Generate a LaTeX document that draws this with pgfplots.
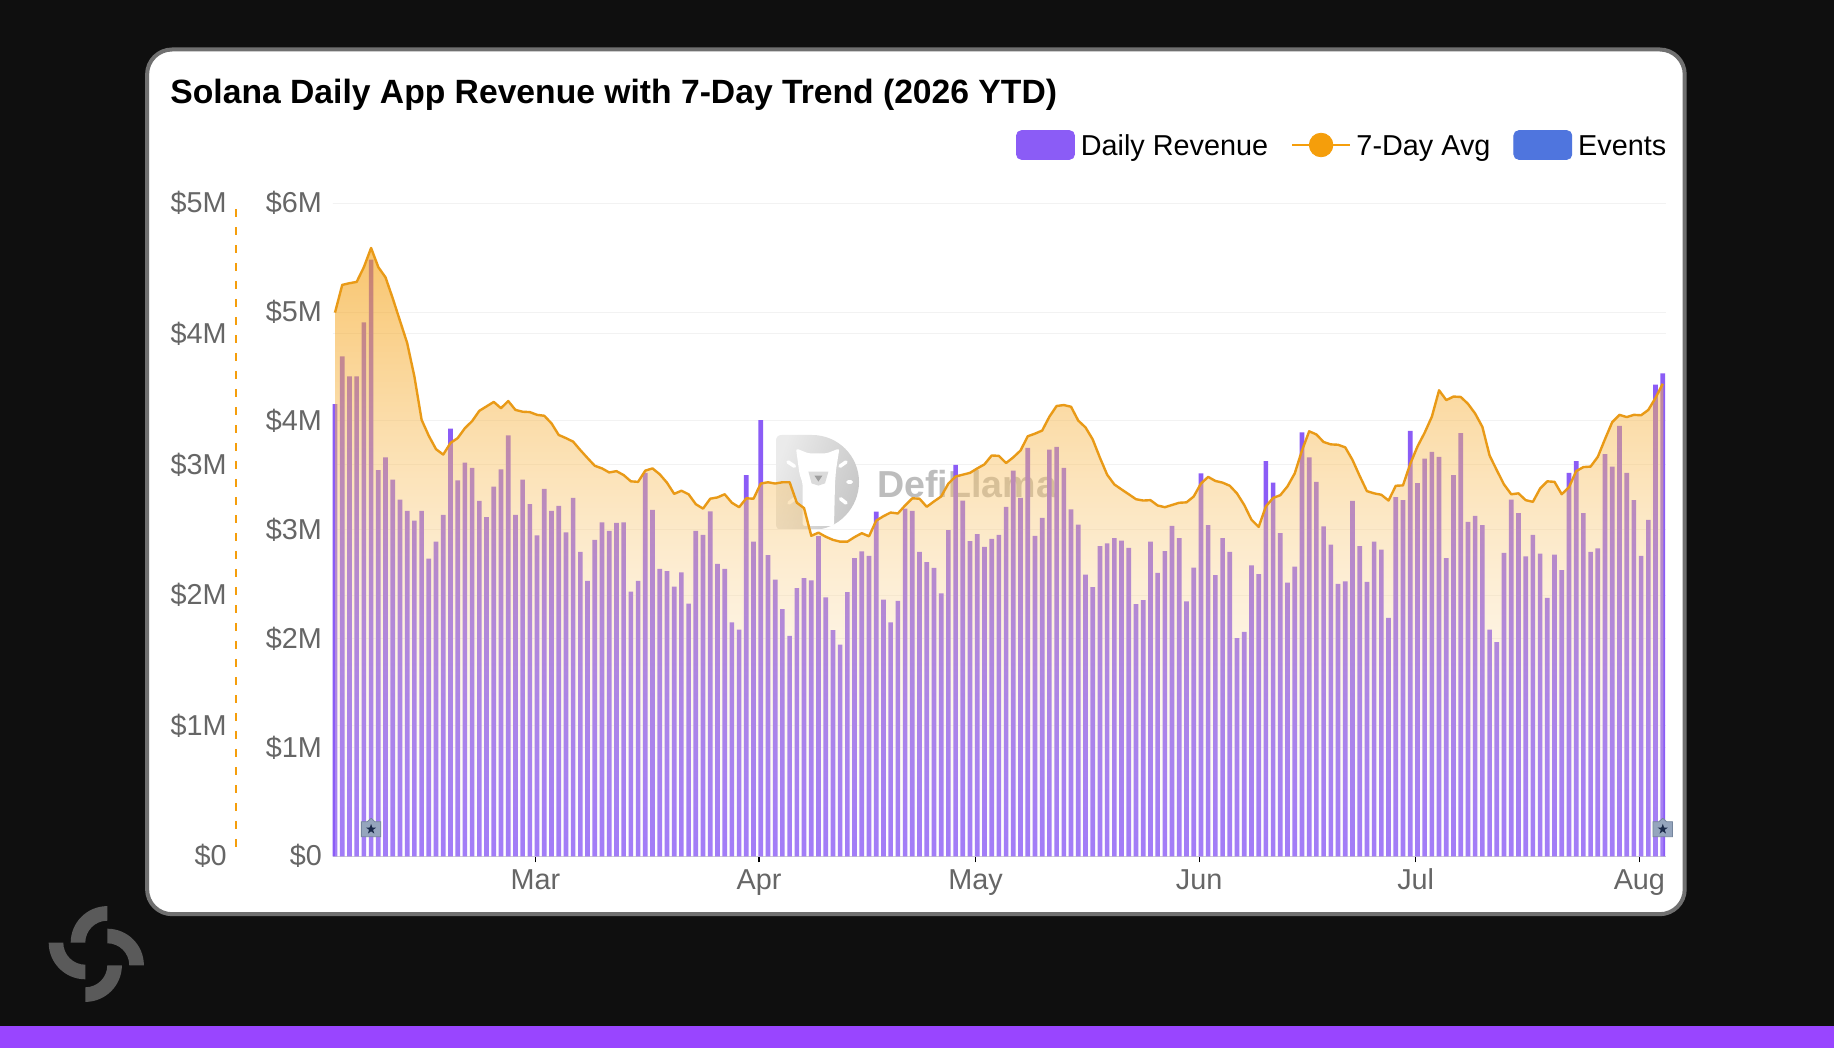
\documentclass[border=0pt]{standalone}
\usepackage{fontspec}
\setmainfont{Liberation Sans}
\usepackage{pgfplots}
\usepackage{pgfplotstable}
\pgfplotsset{compat=1.18}
\usetikzlibrary{fadings,calc}

\definecolor{bgdark}{HTML}{0F0F0F}
\definecolor{stripe}{HTML}{9945FF}
\definecolor{cardedge}{HTML}{707070}
\definecolor{logogray}{HTML}{5A5A5A}
\definecolor{barpurple}{HTML}{8B5CF6}
\definecolor{eventblue}{HTML}{4F75DE}
\definecolor{avgorange}{HTML}{F59E0B}
\definecolor{avgline}{HTML}{E99A17}
\definecolor{ticktext}{HTML}{666666}
\definecolor{gridline}{HTML}{F2F2F2}
\definecolor{eventfill}{HTML}{95A5BD}
\definecolor{eventedge}{HTML}{75859D}
\definecolor{eventstar}{HTML}{1B2A4A}

\tikzfading[name=areafade, top color=transparent!40, bottom color=transparent!80]

\pgfdeclareplotmark{eventpin}{%
  \pgfsetlinewidth{0.4pt}%
  \pgfsetfillcolor{eventfill}\pgfsetstrokecolor{eventedge}%
  \pgfpathmoveto{\pgfqpoint{-4.85pt}{-3.75pt}}%
  \pgfpathlineto{\pgfqpoint{4.85pt}{-3.75pt}}%
  \pgfpathlineto{\pgfqpoint{4.85pt}{3.75pt}}%
  \pgfpathlineto{\pgfqpoint{1.9pt}{3.75pt}}%
  \pgfpathlineto{\pgfqpoint{0pt}{5.45pt}}%
  \pgfpathlineto{\pgfqpoint{-1.9pt}{3.75pt}}%
  \pgfpathlineto{\pgfqpoint{-4.85pt}{3.75pt}}%
  \pgfpathclose
  \pgfusepathqfillstroke
  \pgfsetfillcolor{eventstar}%
  \pgfpathmoveto{\pgfqpoint{0pt}{2.7pt}}%
  \pgfpathlineto{\pgfqpoint{-0.617pt}{0.85pt}}%
  \pgfpathlineto{\pgfqpoint{-2.568pt}{0.834pt}}%
  \pgfpathlineto{\pgfqpoint{-0.999pt}{-0.324pt}}%
  \pgfpathlineto{\pgfqpoint{-1.587pt}{-2.184pt}}%
  \pgfpathlineto{\pgfqpoint{0pt}{-1.05pt}}%
  \pgfpathlineto{\pgfqpoint{1.587pt}{-2.184pt}}%
  \pgfpathlineto{\pgfqpoint{0.999pt}{-0.324pt}}%
  \pgfpathlineto{\pgfqpoint{2.568pt}{0.834pt}}%
  \pgfpathlineto{\pgfqpoint{0.617pt}{0.85pt}}%
  \pgfpathclose
  \pgfusepathqfill
}

% one row per day from 1 Feb, revenue on the $6M scale, average on the $5M scale
\pgfplotstableread{
day rev avg
0 4.155 4.163
1 4.593 4.375
2 4.409 4.388
3 4.409 4.398
4 4.905 4.511
5 5.483 4.658
6 3.548 4.511
7 3.666 4.433
8 3.461 4.272
9 3.277 4.101
10 3.174 3.930
11 3.084 3.674
12 3.174 3.342
13 2.735 3.219
14 2.891 3.117
15 3.137 3.076
16 3.929 3.165
17 3.453 3.202
18 3.617 3.278
19 3.568 3.332
20 3.265 3.411
21 3.117 3.445
22 3.396 3.479
23 3.556 3.431
24 3.867 3.486
25 3.137 3.418
26 3.461 3.404
27 3.236 3.401
28 2.949 3.380
29 3.375 3.373
30 3.174 3.315
31 3.219 3.226
32 2.977 3.202
33 3.293 3.175
34 2.797 3.110
35 2.530 3.049
36 2.908 2.990
37 3.068 2.970
38 2.990 2.939
39 3.064 2.949
40 3.068 2.919
41 2.432 2.871
42 2.530 2.867
43 3.523 2.953
44 3.183 2.970
45 2.641 2.925
46 2.621 2.861
47 2.477 2.775
48 2.608 2.799
49 2.321 2.772
50 2.990 2.696
51 2.953 2.662
52 3.170 2.738
53 2.686 2.748
54 2.641 2.772
55 2.149 2.707
56 2.083 2.673
57 3.502 2.741
58 2.891 2.738
59 4.007 2.854
60 2.768 2.864
61 2.543 2.854
62 2.272 2.864
63 2.026 2.864
64 2.465 2.707
65 2.555 2.666
66 2.535 2.454
67 2.941 2.478
68 2.379 2.447
69 2.079 2.423
70 1.944 2.409
71 2.428 2.409
72 2.740 2.444
73 2.801 2.474
74 2.760 2.450
75 3.166 2.570
76 2.358 2.604
77 2.149 2.632
78 2.346 2.625
79 3.195 2.686
80 3.174 2.741
81 2.797 2.738
82 2.703 2.676
83 2.649 2.717
84 2.416 2.755
85 2.998 2.854
86 3.597 2.908
87 3.269 2.922
88 2.895 2.936
89 2.961 2.970
90 2.842 3.001
91 2.916 3.069
92 2.953 3.066
93 3.211 3.011
94 3.543 3.055
95 3.293 3.107
96 3.753 3.216
97 2.945 3.236
98 3.109 3.260
99 3.736 3.366
100 3.761 3.448
101 3.568 3.455
102 3.187 3.442
103 3.047 3.336
104 2.588 3.284
105 2.473 3.192
106 2.850 3.052
107 2.875 2.922
108 2.924 2.847
109 2.900 2.809
110 2.834 2.772
111 2.317 2.734
112 2.354 2.724
113 2.891 2.727
114 2.604 2.686
115 2.805 2.673
116 3.035 2.690
117 2.924 2.707
118 2.342 2.710
119 2.653 2.755
120 3.519 2.854
121 3.043 2.905
122 2.584 2.874
123 2.924 2.861
124 2.797 2.837
125 2.005 2.778
126 2.063 2.690
127 2.674 2.577
128 2.592 2.522
129 3.630 2.679
130 3.433 2.744
131 2.969 2.765
132 2.514 2.833
133 2.662 2.932
134 3.896 3.107
135 3.666 3.254
136 3.441 3.230
137 3.031 3.172
138 2.863 3.154
139 2.502 3.151
140 2.526 3.131
141 3.265 3.035
142 2.850 2.912
143 2.522 2.796
144 2.891 2.779
145 2.818 2.768
146 2.190 2.724
147 3.301 2.837
148 3.273 2.840
149 3.908 3.004
150 3.429 3.137
151 3.654 3.243
152 3.716 3.366
153 3.671 3.568
154 2.740 3.493
155 3.502 3.520
156 3.888 3.517
157 3.072 3.465
158 3.129 3.390
159 3.043 3.288
160 2.083 3.069
161 1.969 2.956
162 2.789 2.847
163 3.277 2.772
164 3.154 2.779
165 2.756 2.727
166 2.953 2.714
167 2.781 2.816
168 2.375 2.871
169 2.772 2.867
170 2.629 2.772
171 3.523 2.826
172 3.630 2.949
173 3.154 2.980
174 2.797 2.984
175 2.830 3.059
176 3.695 3.195
177 3.580 3.325
178 3.954 3.380
179 3.523 3.363
180 3.273 3.380
181 2.760 3.377
182 3.092 3.418
183 4.335 3.510
184 4.438 3.619
}\dailytable

\pgfplotsset{
  panel/.style={
    at={(166.35pt,95.85pt)}, anchor=south west,
    scale only axis, width=666.65pt, height=326.5pt,
    xmin=-0.32, xmax=184.45, ymin=0,
    clip=false,
    tick label style={font=\fontsize{14.4}{16}\selectfont, text=ticktext},
  },
}

\begin{document}
\begin{tikzpicture}
\useasboundingbox (0,0) rectangle (917pt,524pt);
\fill[bgdark] (0,0) rectangle (917pt,524pt);
\fill[stripe] (0,0) rectangle (917pt,11pt);
\draw[cardedge, fill=white, line width=2pt, rounded corners=12.5pt]
  (73.55pt,66.9pt) rectangle (842.35pt,499.25pt);

% corner logo, four ring quarters
\foreach \cx/\cy/\start in {53.65/52.65/90, 53.65/41.35/0, 42.65/41.35/270, 42.65/52.65/180}{
  \fill[logogray] ($(\cx pt,\cy pt)+(\start:18.3pt)$) arc[start angle=\start, delta angle=90, radius=18.3pt]
    -- ($(\cx pt,\cy pt)+(\start+90:11pt)$) arc[start angle=\start+90, delta angle=-90, radius=11pt] -- cycle;
}

% left scale: its grid and labels sit under the bars
\begin{axis}[panel, ymax=5,
  axis line style={draw=none},
  xtick=\empty,
  ytick={0,1,2,3,4,5},
  yticklabels={\$0,\$1M,\$2M,\$3M,\$4M,\$5M},
  ytick style={draw=none},
  yticklabel style={anchor=east, inner sep=0pt, xshift=-52.8pt},
  ymajorgrids, grid style={gridline, line width=0.5pt},
  title={\fontsize{16.83}{20}\selectfont\bfseries Solana Daily App Revenue with 7-Day Trend (2026 YTD)},
  title style={at={(-0.122,1.1535)}, anchor=base west, inner sep=0pt, yshift=-6pt},
]
\draw[avgorange, line width=1pt, dash pattern=on 4pt off 5pt]
  (axis description cs:-0.0726,0.0143) -- (axis description cs:-0.0726,0.9963);
\end{axis}

% DefiLlama watermark
\shade[left color=black!8, right color=black!22, shading angle=70]
  (391pt,259pt) .. controls (389pt,259pt) and (388pt,260pt) .. (388pt,262pt)
  -- (388pt,303.5pt) .. controls (388pt,305.5pt) and (389pt,306.5pt) .. (391pt,306.5pt)
  -- (406pt,306.5pt) .. controls (419pt,306.5pt) and (429.5pt,296pt) .. (429.5pt,283pt)
  .. controls (429.5pt,270pt) and (419pt,259pt) .. (406pt,259pt) -- cycle;
\fill[white, rounded corners=1.2pt] (398pt,299.8pt) -- (404.2pt,297.3pt) -- (413.3pt,297.3pt)
  -- (419.7pt,299.8pt) -- (418pt,289pt) -- (417.5pt,282.3pt) -- (417pt,261pt) -- (401.3pt,261pt)
  -- (401.3pt,282.3pt) -- (399.7pt,287.3pt) -- cycle;
\fill[black!14] (404.2pt,288.2pt) -- (414.2pt,288.2pt) -- (412.5pt,282.3pt) -- (409.2pt,281.2pt)
  -- (405.8pt,282.3pt) -- cycle;
\fill[black!38] (407.2pt,286.2pt) -- (411.2pt,286.2pt) -- (409.2pt,283.2pt) -- cycle;
\draw[white, line width=1.8pt, line cap=round]
  (394pt,293pt) -- (397.2pt,290.9pt)
  (420pt,290.9pt) -- (423pt,293pt)
  (424pt,283pt) -- (425.7pt,283pt)
  (420.3pt,274.6pt) -- (423pt,272.5pt)
  (394.5pt,272.5pt) -- (397.2pt,274.6pt);
\node[anchor=west, inner sep=0pt, text=black!26] at (438.5pt,282pt)
  {\fontsize{18.8}{20}\selectfont\bfseries DefiLlama};

% right scale: bars, grid, month ticks
\begin{axis}[panel, ymax=6,
  axis x line*=bottom, axis y line*=left,
  y axis line style={draw=none},
  x axis line style={draw=gray!40, -},
  ytick={0,1,2,3,4,5,6},
  yticklabels={\$0,\$1M,\$2M,\$3M,\$4M,\$5M,\$6M},
  ytick style={draw=none},
  yticklabel style={anchor=east, inner sep=0pt, xshift=-2.2pt},
  xtick={27.76,58.76,88.76,119.76,149.76,180.76},
  xticklabels={Mar,Apr,May,Jun,Jul,Aug},
  xtick style={black, line width=0.6pt},
  tick align=outside, major tick length=3pt,
  xticklabel style={text height=10.4pt, yshift=0.2pt},
  ymajorgrids, grid style={gridline, line width=0.5pt},
]
\addplot[ybar, bar width=2.335pt, fill=barpurple, draw=none, bar shift=0pt]
  table[x=day, y=rev] {\dailytable};
\end{axis}

% left scale again: the average and its area over the bars, the event pins, the legend
\begin{axis}[panel, ymax=5,
  axis line style={draw=none},
  xtick=\empty, ytick=\empty,
  legend columns=3,
  legend style={at={(1.0035,1.0849)}, anchor=east, draw=none, fill=none, inner sep=0pt,
    font=\fontsize{14.4}{16}\selectfont,
    nodes={text depth=3pt, text height=10.5pt},
    /tikz/every even column/.append style={column sep=9.5pt}},
]
\addplot[draw=none, top color=avgorange, bottom color=white, path fading=areafade, forget plot]
  table[x=day, y=avg] {\dailytable} \closedcycle;
\addplot[avgline, line width=1.2pt, line join=round, forget plot]
  table[x=day, y=avg] {\dailytable};
\addplot[only marks, mark=eventpin, forget plot] coordinates {(5,0.2075) (184,0.2075)};
\addlegendimage{legend image code/.code={
  \fill[barpurple, rounded corners=2.5pt] (0pt,-5.7pt) rectangle (29pt,8.7pt);
  \path[draw=none] (30.2pt,0pt);}}
\addlegendentry{Daily Revenue}
\addlegendimage{legend image code/.code={
  \draw[avgorange, line width=0.9pt] (0pt,1.5pt) -- (29pt,1.5pt);
  \fill[avgorange] (14.5pt,1.5pt) circle (5.9pt);
  \path[draw=none] (30.2pt,-5.7pt) -- (30.2pt,8.7pt);}}
\addlegendentry{7-Day Avg}
\addlegendimage{legend image code/.code={
  \fill[eventblue, rounded corners=2.5pt] (0pt,-5.7pt) rectangle (29pt,8.7pt);
  \path[draw=none] (30.2pt,0pt);}}
\addlegendentry{Events}
\end{axis}
\end{tikzpicture}
\end{document}
